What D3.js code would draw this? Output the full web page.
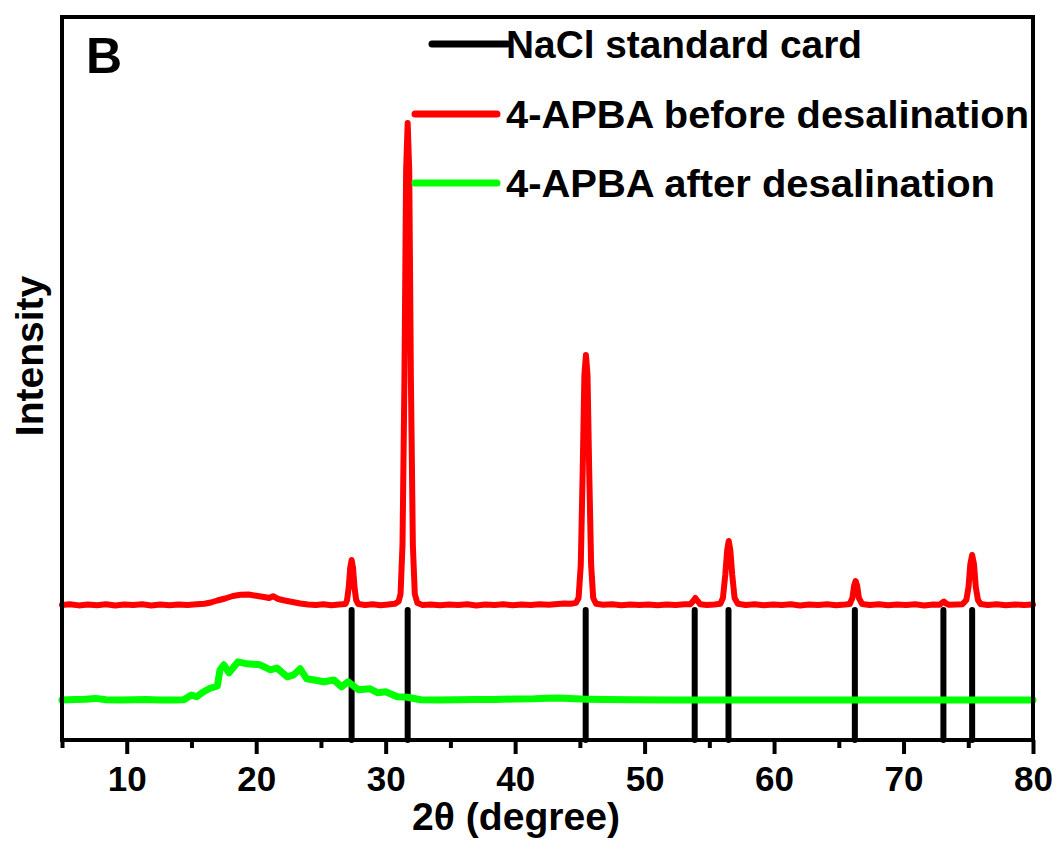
<!DOCTYPE html>
<html>
<head>
<meta charset="utf-8">
<script src="https://cdn.jsdelivr.net/npm/d3@7/dist/d3.min.js"></script>
<style>
  html, body { margin: 0; padding: 0; background: #fff; }
  svg { display: block; font-family: "Liberation Sans", Arial, sans-serif; font-weight: bold; }
</style>
</head>
<body>
<svg id="chart" width="1057" height="843"></svg>
<script>
// ---------- DATA ----------
const majorTicks = [10, 20, 30, 40, 50, 60, 70, 80];
const minorTicks = [5, 15, 25, 35, 45, 55, 65, 75];

// NaCl standard card reflections (2θ) and drawn stick height (a.u.)
const naclPos = [27.37, 31.70, 45.45, 53.87, 56.48, 66.24, 73.08, 75.30];
const naclHeight = [1300, 1300, 1300, 1300, 1300, 1300, 1300, 1300];

// 4-APBA before desalination [2θ, intensity a.u.]
const beforeDesal = [
  [5.0,1350],[5.6,1358],[6.3,1346],[7.0,1356],[7.7,1348],[8.4,1357],[9.1,1345],[9.8,1354],
  [10.5,1349],[11.2,1357],[11.9,1346],[12.6,1355],[13.3,1348],[14.0,1356],[14.7,1350],[15.4,1357],
  [16.0,1362],[16.5,1375],[17.0,1395],[17.6,1415],[18.2,1440],[18.8,1452],[19.4,1455],[20.0,1442],
  [20.6,1430],[21.0,1420],[21.3,1438],[21.7,1410],[22.2,1395],[22.8,1380],[23.4,1365],[24.0,1356],
  [24.6,1350],[25.2,1358],[25.8,1348],[26.4,1355],[26.9,1360],
  [27.02,1400],[27.15,1530],[27.26,1720],[27.37,1800],[27.48,1720],[27.59,1530],[27.72,1400],[27.88,1360],
  [28.4,1350],[29.0,1357],[29.6,1348],[30.2,1355],[30.7,1362],[31.0,1385],
  [31.15,1460],[31.3,1950],[31.45,3600],[31.58,5700],[31.7,6170],[31.82,5700],[31.95,3600],[32.1,1950],
  [32.25,1460],[32.45,1370],[32.85,1350],
  [33.5,1356],[34.2,1347],[34.9,1355],[35.6,1349],[36.3,1357],[37.0,1346],[37.7,1354],[38.4,1350],
  [39.1,1357],[39.8,1347],[40.5,1355],[41.2,1349],[41.9,1358],[42.6,1352],[43.3,1360],[43.8,1365],
  [44.3,1362],[44.7,1372],
  [44.9,1420],[45.07,1750],[45.22,2700],[45.35,3650],[45.47,3850],[45.59,3650],[45.72,2700],[45.87,1750],
  [46.03,1420],[46.25,1362],
  [46.8,1352],[47.5,1357],[48.2,1348],[48.9,1355],[49.6,1349],[50.3,1356],[51.0,1347],[51.7,1355],
  [52.4,1350],[53.1,1357],[53.55,1358],[53.75,1390],[53.92,1420],[54.1,1390],[54.3,1357],[54.8,1350],
  [55.4,1356],[55.85,1362],
  [56.05,1420],[56.23,1650],[56.38,1900],[56.5,1990],[56.62,1900],[56.77,1650],[56.95,1420],[57.2,1362],
  [57.8,1350],[58.5,1357],[59.2,1347],[59.9,1355],[60.6,1349],[61.3,1357],[62.0,1346],[62.7,1354],
  [63.4,1350],[64.1,1357],[64.8,1348],[65.5,1355],[65.85,1360],
  [66.05,1420],[66.18,1540],[66.3,1590],[66.42,1540],[66.55,1420],[66.8,1360],
  [67.4,1350],[68.1,1357],[68.8,1347],[69.5,1355],[70.2,1349],[70.9,1357],[71.6,1346],[72.3,1354],
  [72.8,1352],[73.0,1375],[73.12,1385],[73.25,1368],[73.5,1352],[74.1,1356],[74.55,1358],
  [74.85,1400],[75.02,1530],[75.16,1760],[75.3,1850],[75.44,1760],[75.58,1530],[75.75,1400],[75.95,1360],
  [76.5,1350],[77.2,1357],[77.9,1347],[78.6,1355],[79.3,1349],[80.0,1354]
];

// 4-APBA after desalination [2θ, intensity a.u.]
const afterDesal = [
  [5.0,400],[6.0,405],[6.8,408],[7.6,416],[8.4,402],[9.5,400],[10.5,403],[11.5,404],[12.5,400],
  [13.5,401],[14.4,402],[15.0,450],[15.4,432],[15.9,480],[16.4,515],[17.0,540],[17.2,700],[17.5,752],
  [17.9,672],[18.6,782],[19.3,762],[20.3,752],[21.1,702],[21.6,720],[22.4,632],[22.9,652],[23.4,712],
  [23.9,612],[24.6,598],[25.2,582],[26.0,600],[26.6,532],[27.1,582],[27.9,502],[28.8,512],[29.4,472],
  [30.0,482],[30.9,432],[31.7,428],[32.7,402],[34.0,400],[35.5,402],[37.0,404],[38.5,406],[40.0,410],
  [41.5,412],[42.5,418],[43.3,420],[44.2,414],[45.5,408],[47.0,404],[49.0,402],[52.0,400],[56.0,401],
  [60.0,400],[64.0,401],[68.0,400],[72.0,401],[76.0,400],[80.0,400]
];

const legendLabels = ["NaCl standard card", "4-APBA before desalination", "4-APBA after desalination"];
const legendColors = ["#000000", "#ff0000", "#00ff00"];

// ---------- LAYOUT ----------
const L = 62, R = 1033, T = 17, B = 740;
const svg = d3.select("#chart");

const x = d3.scaleLinear().domain([5, 80]).range([L, R]);
const y = d3.scaleLinear().domain([0, 7230]).range([B, T]);

// NaCl sticks
svg.append("g").selectAll("line").data(naclPos).join("line")
  .attr("x1", d => x(d)).attr("x2", d => x(d))
  .attr("y1", y(0)).attr("y2", (d, i) => y(naclHeight[i]))
  .attr("stroke", "#000").attr("stroke-width", 6).attr("stroke-linecap", "round");

const line = d3.line().x(d => x(d[0])).y(d => y(d[1]));

svg.append("path").datum(afterDesal).attr("d", line)
  .attr("fill", "none").attr("stroke", "#00ff00").attr("stroke-width", 7)
  .attr("stroke-linejoin", "round").attr("stroke-linecap", "round");

svg.append("path").datum(beforeDesal).attr("d", line)
  .attr("fill", "none").attr("stroke", "#ff0000").attr("stroke-width", 6)
  .attr("stroke-linejoin", "round").attr("stroke-linecap", "round");

// frame
svg.append("rect").attr("x", L).attr("y", T).attr("width", R - L).attr("height", B - T)
  .attr("fill", "none").attr("stroke", "#000").attr("stroke-width", 4);

// bottom axis: major ticks with labels
const axMajor = svg.append("g").attr("transform", `translate(0,${B})`)
  .call(d3.axisBottom(x).tickValues(majorTicks).tickSize(14).tickPadding(12).tickFormat(d3.format("d")));
axMajor.select(".domain").remove();
axMajor.selectAll(".tick line").attr("stroke", "#000").attr("stroke-width", 4);
axMajor.selectAll(".tick text").attr("font-family", "Liberation Sans, Arial, sans-serif")
  .attr("font-weight", "bold").attr("font-size", 35).attr("fill", "#000");

const axMinor = svg.append("g").attr("transform", `translate(0,${B})`)
  .call(d3.axisBottom(x).tickValues(minorTicks).tickSize(8).tickFormat(""));
axMinor.select(".domain").remove();
axMinor.selectAll(".tick line").attr("stroke", "#000").attr("stroke-width", 4);

// axis titles
svg.append("text").attr("x", 412).attr("y", 830)
  .attr("font-size", 38).attr("fill", "#000")
  .attr("textLength", 208).attr("lengthAdjust", "spacingAndGlyphs").text("2θ (degree)");

svg.append("text").attr("transform", "translate(43,356) rotate(-90)").attr("text-anchor", "middle")
  .attr("font-size", 39).attr("fill", "#000").text("Intensity");

// panel label
svg.append("text").attr("x", 86).attr("y", 73).attr("font-size", 50).attr("fill", "#000").text("B");

// legend
const legY = [44, 114, 183];
const legX1 = [432, 415, 415];
const legX2 = [507, 497, 497];
const legW = [356, 523, 489];
const lg = svg.append("g");
legendLabels.forEach((lab, i) => {
  lg.append("line").attr("x1", legX1[i]).attr("x2", legX2[i]).attr("y1", legY[i]).attr("y2", legY[i])
    .attr("stroke", legendColors[i]).attr("stroke-width", 7).attr("stroke-linecap", "round");
  lg.append("text").attr("x", 506).attr("y", legY[i] + 14).attr("font-size", 39).attr("fill", "#000")
    .attr("textLength", legW[i]).attr("lengthAdjust", "spacingAndGlyphs").text(lab);
});
</script>
</body>
</html>
